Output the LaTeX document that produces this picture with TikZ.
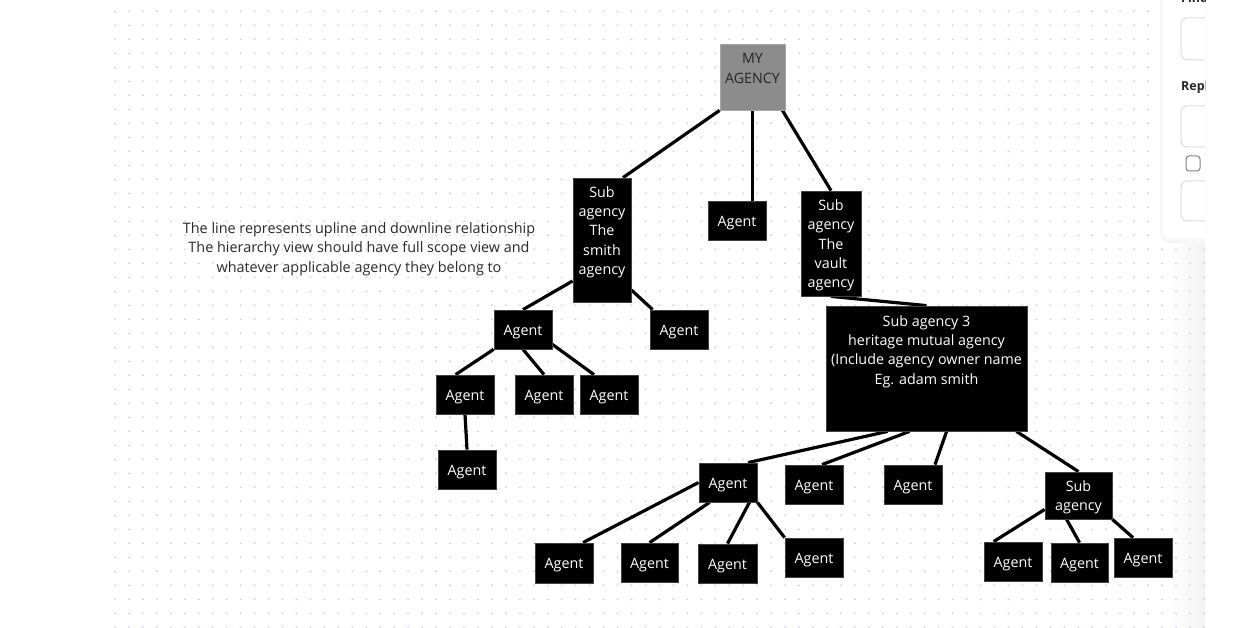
\documentclass[tikz,border=0pt]{standalone}
\usepackage{fontspec}
\setmainfont{Open Sans}
\usetikzlibrary{fit}
\pgfdeclarelayer{bg}
\pgfsetlayers{bg,main}
\definecolor{dotc}{HTML}{CFCFDA}
\definecolor{myfill}{HTML}{8C8C8C}
\definecolor{txtdark}{HTML}{2A2A2A}
\definecolor{panelline}{HTML}{DDDDDD}
\tikzset{
  box/.style={draw=black!75, line width=0.8pt, fill=black, inner sep=0pt},
  btxt/.style={text=white, align=center, inner sep=0pt, font=\fontsize{14.3}{19.3}\selectfont},
  link/.style={line width=3.2pt, black},
}
\begin{document}
\begin{tikzpicture}[x=1pt,y=-1pt]
\useasboundingbox (0,0) rectangle (1246,628);
\begin{pgfonlayer}{bg}
\fill[white] (0,0) rectangle (1246,628);
\shade[left color=white, right color=black!5] (1170,0) rectangle (1205,628);
% dot grid
\foreach \i in {0,...,78} {
  \foreach \j in {0,...,44} {
    \fill[dotc] (115+\i*13.96, 11.3+\j*14) circle (1pt);
  }
}
\end{pgfonlayer}
% right panel
\begin{scope}
\clip (1140,0) rectangle (1205,628);
\fill[black!6, rounded corners=8pt] (1161,-20) rectangle (1260,241);
\fill[black!3, rounded corners=8pt] (1160,-20) rectangle (1260,243);
\fill[white, rounded corners=8pt] (1163,-20) rectangle (1260,238);
\node[anchor=base west, inner sep=0pt, font=\fontsize{12.5}{14}\selectfont\bfseries, text=black!85] (findt) at (1181,3) {Find};
\node[anchor=base west, inner sep=0pt, font=\fontsize{12.5}{14}\selectfont\bfseries, text=black!85] (replt) at (1181,91) {Repl};
\draw[panelline, line width=1pt, rounded corners=6pt] (1181,18) rectangle (1260,60);
\draw[panelline, line width=1pt, rounded corners=6pt] (1181,106) rectangle (1260,147);
\draw[black!50, line width=1pt, rounded corners=3pt] (1186,156) rectangle (1200,171);
\draw[panelline, line width=1pt, rounded corners=6pt] (1181,181) rectangle (1260,221);
\end{scope}
% annotation
\node[align=center, inner sep=0pt, text=txtdark, font=\fontsize{14.4}{19.4}\selectfont] (note) at (359,249)
 {The line represents upline and downline relationship\\The hierarchy view should have full scope view and\\whatever applicable agency they belong to};
% boxes
\path
 node[box, fill=myfill, draw=black!35, fit={(720,44)(785,110)}] (my) {}
 node[box, fit={(573,178)(631,302)}] (smith) {}
 node[box, fit={(708,201)(766,240)}] (agm) {}
 node[box, fit={(801,191)(861,296)}] (vault) {}
 node[box, fit={(826,306)(1027,431)}] (sa3) {}
 node[box, fit={(494,310)(552,349)}] (a1) {}
 node[box, fit={(650,310)(708,349)}] (a2) {}
 node[box, fit={(436,375)(494,414)}] (a11) {}
 node[box, fit={(515,375)(573,414)}] (a12) {}
 node[box, fit={(580,375)(638,414)}] (a13) {}
 node[box, fit={(438,450)(496,489)}] (a111) {}
 node[box, fit={(699,463)(757,502)}] (b1) {}
 node[box, fit={(785,465)(843,504)}] (b2) {}
 node[box, fit={(884,465)(942,504)}] (b3) {}
 node[box, fit={(1045,472)(1112,519)}] (sub) {}
 node[box, fit={(535,543)(593,583)}] (c1) {}
 node[box, fit={(621,543)(678,582)}] (c2) {}
 node[box, fit={(698,544)(757,583)}] (c3) {}
 node[box, fit={(785,538)(843,577)}] (c4) {}
 node[box, fit={(984,542)(1042,581)}] (d1) {}
 node[box, fit={(1051,543)(1108,582)}] (d2) {}
 node[box, fit={(1114,538)(1172,577)}] (d3) {};
% links (behind boxes)
\begin{pgfonlayer}{bg}
\draw[link] (my.south west) -- ([xshift=21pt]smith.north);
\draw[link] (my.south) -- (my.south |- agm.north);
\draw[link] ([xshift=-3pt]my.south east) -- (vault.north);
\draw[link] (vault.south) -- (sa3.north);
\draw[link] ([yshift=-41pt]smith.west) -- (a1.north);
\draw[link] ([yshift=-50pt]smith.east) -- ([xshift=3pt]a2.north west);
\draw[link] (a1.south west) -- ([xshift=20pt]a11.north west);
\draw[link] (a1.south) -- (a12.north);
\draw[link] ([yshift=5pt]a1.south east) -- ([xshift=-15pt]a13.north);
\draw[link] (a11.south) -- (a111.north);
\draw[link] ([xshift=62pt]sa3.south west) -- ([xshift=20pt]b1.north);
\draw[link] ([xshift=84pt]sa3.south west) -- ([xshift=8pt]b2.north);
\draw[link] ([xshift=121pt]sa3.south west) -- ([xshift=22pt]b3.north);
\draw[link] ([xshift=-11pt]sa3.south east) -- (sub.north);
\draw[link] (b1.west) -- ([xshift=19pt]c1.north);
\draw[link] ([xshift=11pt]b1.south west) -- (c2.north);
\draw[link] ([xshift=-8pt]b1.south east) -- (c3.north);
\draw[link] (b1.south east) -- (c4.north west);
\draw[link] ([yshift=-14pt]sub.west) -- ([xshift=10pt]d1.north west);
\draw[link] ([xshift=22pt]sub.south west) -- (d2.north);
\draw[link] (sub.south east) -- ([xshift=-10pt]d3.north);
\end{pgfonlayer}
% texts
\foreach \n in {agm,a1,a2,a11,a12,a13,a111,b1,b2,b3,c1,c2,c3,c4,d1,d2,d3}
  \node[btxt] (\n t) at ([yshift=-2.5pt]\n.center) {Agent};
\node[btxt, text=black!85] (myt) at ([yshift=8.5pt]my.center) {MY\\AGENCY};
\node[btxt] (smitht) at ([yshift=8pt]smith.center) {Sub\\agency\\The\\smith\\agency};
\node[btxt] (vaultt) at ([yshift=-2pt]vault.center) {Sub\\agency\\The\\vault\\agency};
\node[btxt] (sa3t) at ([yshift=17pt]sa3.center) {Sub agency 3\\heritage mutual agency\\(Include agency owner name\\Eg. adam smith};
\node[btxt] (subt) at ([yshift=-2pt]sub.center) {Sub\\agency};
\end{tikzpicture}
\end{document}
